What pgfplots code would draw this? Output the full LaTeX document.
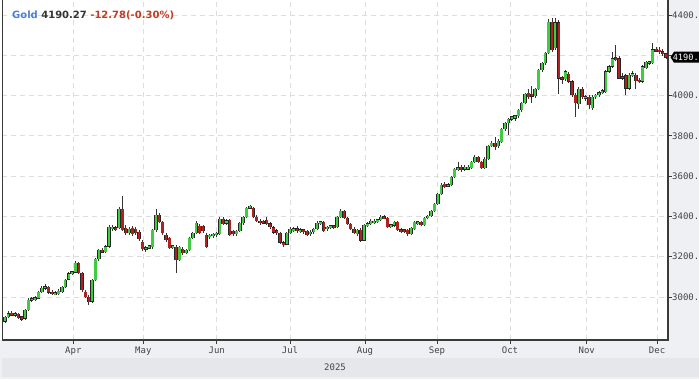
\documentclass[border=0pt]{standalone}
\usepackage{pgfplots}
\pgfplotsset{compat=1.18}
\usepackage{pgfplotstable}
\usepackage{fontspec}
\newfontfamily\monof{DejaVu Sans Mono}
\newfontfamily\titlef{DejaVu Sans}
\definecolor{upgreen}{HTML}{40CC40}
\definecolor{downred}{HTML}{AE2220}
\definecolor{gridc}{HTML}{DDDDDD}
\definecolor{panel}{HTML}{EEF0F3}
\definecolor{bandc}{HTML}{E5E7EA}
\definecolor{axc}{HTML}{3A3A3A}
\definecolor{txt}{HTML}{444444}
\definecolor{txtdark}{HTML}{333333}
\definecolor{goldblue}{HTML}{4A7FD4}
\definecolor{chg}{HTML}{C23B22}

\pgfplotstableread{
i o h l c
0 2878 2908 2870 2900
1 2900 2928 2894 2918
2 2920 2930 2905 2908
3 2909 2925 2900 2919
4 2915 2922 2890 2896
5 2902 2908 2880 2887
6 2892 2940 2885 2935
7 2935 2995 2930 2985
8 2982 3002 2975 2994
9 2986 3005 2980 2998
10 2994 3030 2990 3025
11 3025 3055 3018 3045
12 3042 3066 3035 3053
13 3050 3056 3015 3022
14 3025 3035 3008 3014
15 3011 3030 3008 3023
16 3015 3038 3010 3030
17 3025 3055 3020 3050
18 3050 3090 3045 3085
19 3088 3122 3082 3117
20 3114 3131 3109 3127
21 3121 3177 3117 3169
22 3169 3174 3114 3119
23 3119 3124 3025 3035
24 3025 3035 2995 3000
25 3000 3010 2960 2975
26 2978 3090 2970 3085
27 3085 3193 3078 3188
28 3188 3238 3178 3233
29 3234 3243 3218 3222
30 3223 3258 3216 3250
31 3250 3357 3243 3347
32 3337 3357 3329 3347
33 3345 3352 3327 3334
34 3342 3447 3337 3437
35 3437 3502 3327 3332
36 3342 3357 3307 3317
37 3317 3347 3307 3337
38 3342 3352 3302 3312
39 3337 3349 3307 3317
40 3322 3332 3277 3287
41 3273 3283 3228 3238
42 3236 3253 3223 3246
43 3242 3258 3236 3254
44 3248 3337 3238 3332
45 3332 3437 3325 3407
46 3407 3417 3367 3372
47 3372 3379 3307 3317
48 3307 3317 3273 3283
49 3292 3299 3236 3243
50 3243 3260 3238 3255
51 3248 3256 3119 3183
52 3183 3253 3178 3248
53 3238 3246 3208 3218
54 3218 3240 3213 3233
55 3233 3297 3228 3293
56 3293 3325 3288 3317
57 3317 3375 3312 3367
58 3352 3362 3312 3317
59 3352 3359 3319 3327
60 3307 3317 3243 3248
61 3297 3312 3289 3307
62 3302 3319 3295 3312
63 3307 3325 3299 3317
64 3312 3395 3307 3387
65 3387 3397 3357 3362
66 3365 3387 3357 3379
67 3382 3389 3302 3307
68 3327 3335 3305 3312
69 3312 3335 3305 3327
70 3327 3372 3322 3367
71 3367 3402 3359 3397
72 3397 3447 3392 3442
73 3440 3455 3435 3451
74 3442 3447 3392 3397
75 3397 3405 3372 3377
76 3377 3385 3359 3367
77 3378 3382 3362 3366
78 3382 3395 3357 3362
79 3365 3372 3337 3347
80 3345 3352 3312 3319
81 3329 3337 3307 3317
82 3317 3325 3262 3269
83 3269 3277 3247 3259
84 3262 3322 3257 3317
85 3317 3347 3312 3337
86 3329 3349 3325 3340
87 3339 3352 3317 3327
88 3324 3342 3319 3335
89 3334 3337 3315 3322
90 3327 3335 3302 3307
91 3312 3332 3305 3322
92 3322 3342 3315 3337
93 3337 3375 3332 3367
94 3364 3379 3359 3375
95 3372 3377 3322 3327
96 3337 3352 3327 3347
97 3344 3359 3339 3355
98 3355 3357 3337 3344
99 3347 3402 3342 3397
100 3397 3439 3392 3427
101 3427 3432 3385 3392
102 3392 3399 3357 3362
103 3362 3369 3332 3337
104 3337 3345 3312 3317
105 3312 3337 3305 3332
106 3332 3342 3275 3282
107 3282 3362 3277 3357
108 3354 3372 3349 3365
109 3362 3385 3355 3377
110 3367 3387 3362 3377
111 3374 3389 3369 3385
112 3382 3405 3377 3397
113 3400 3407 3387 3389
114 3392 3399 3342 3347
115 3348 3362 3342 3359
116 3355 3379 3347 3372
117 3372 3377 3327 3332
118 3335 3342 3319 3324
119 3334 3339 3319 3322
120 3332 3337 3305 3312
121 3312 3347 3307 3342
122 3337 3377 3332 3372
123 3364 3379 3357 3375
124 3372 3379 3352 3357
125 3357 3397 3352 3392
126 3392 3407 3385 3402
127 3402 3432 3397 3427
128 3427 3466 3422 3462
129 3462 3516 3457 3511
130 3511 3564 3506 3556
131 3561 3571 3541 3546
132 3548 3566 3544 3559
133 3556 3601 3551 3596
134 3596 3640 3591 3635
135 3630 3670 3625 3642
136 3645 3653 3620 3630
137 3633 3655 3625 3645
138 3634 3653 3630 3646
139 3640 3675 3635 3670
140 3670 3705 3665 3695
141 3695 3700 3663 3670
142 3670 3677 3633 3640
143 3640 3693 3635 3685
144 3685 3757 3680 3750
145 3750 3772 3743 3765
146 3765 3794 3730 3745
147 3750 3784 3740 3774
148 3770 3839 3765 3834
149 3834 3869 3826 3864
150 3864 3889 3804 3884
151 3882 3898 3874 3895
152 3887 3903 3874 3900
153 3898 3933 3891 3928
154 3928 3968 3918 3963
155 3963 4015 3958 4008
156 4013 4032 3985 3993
157 4008 4047 3963 3995
158 3998 4037 3988 4033
159 4033 4132 4028 4127
160 4127 4167 4117 4162
161 4162 4217 4152 4212
162 4212 4380 4207 4366
163 4366 4383 4216 4226
164 4236 4386 4226 4363
165 4363 4376 4008 4085
166 4090 4097 4057 4080
167 4082 4127 4072 4119
168 4107 4117 4062 4069
169 4069 4077 3995 4003
170 4003 4013 3893 3963
171 3958 4043 3933 4033
172 4033 4041 3983 3993
173 3985 4003 3975 3996
174 3993 4001 3933 3953
175 3938 4001 3928 3993
176 3993 4008 3985 4003
177 4003 4021 3995 4015
178 4013 4031 4008 4025
179 4018 4127 4013 4119
180 4119 4152 4112 4144
181 4144 4217 4137 4185
182 4188 4251 4174 4178
183 4185 4197 4081 4086
184 4096 4112 4078 4085
185 4101 4107 4003 4036
186 4036 4110 4028 4102
187 4099 4122 4092 4110
188 4102 4110 4033 4073
189 4078 4088 4061 4070
190 4070 4150 4063 4144
191 4137 4174 4130 4167
192 4159 4174 4152 4170
193 4162 4263 4157 4229
194 4232 4241 4216 4220
195 4226 4243 4207 4218
196 4218 4231 4197 4209
197 4209 4213 4181 4190.27
}\gold

\begin{document}
\begin{tikzpicture}[x=1bp,y=1bp]
\fill[panel] (0,0) rectangle (699,39);
\fill[panel] (668,39) rectangle (699,379);
\fill[bandc] (2,2) rectangle (699,21);
\begin{axis}[
  at={(2bp,39bp)}, anchor=south west, scale only axis,
  width=666bp, height=340bp,
  xmin=-0.864, xmax=197.58, ymin=2786.4, ymax=4474.5,
  axis line style={draw=none},
  xtick={20.38,41.24,63.11,84.95,107.3,128.75,150.5,173.36,194.31},
  xticklabels={Apr,May,Jun,Jul,Aug,Sep,Oct,Nov,Dec},
  ytick={3000,3200,3400,3600,3800,4000,4200,4400},
  yticklabels={3000.,3200.,3400.,3600.,3800.,4000.,,4400.},
  xtick pos=left, ytick pos=right, xticklabel pos=left, yticklabel pos=right,
  tick align=outside, major tick length=3.5bp,
  tick style={axc, line width=0.8bp},
  grid=major,
  major grid style={gridc, dash pattern=on 5bp off 4bp, line width=0.7bp},
  ticklabel style={font=\monof\fontsize{9bp}{10bp}\selectfont, text=txt},
  yticklabel style={anchor=west, inner sep=0pt, xshift=0.5bp},
  xticklabel style={anchor=north, inner sep=0pt, yshift=-3bp},
]
% wicks
\addplot[draw=none, no markers, forget plot,
  error bars/.cd, y dir=both, y explicit, error mark=none,
  error bar style={draw=black!80, line width=0.75bp, solid}]
  table[x=i, y expr={(\thisrow{h}+\thisrow{l})/2},
        y error expr={(\thisrow{h}-\thisrow{l})/2}]{\gold};
% body outlines
\addplot[draw=none, no markers, forget plot,
  error bars/.cd, y dir=both, y explicit, error mark=none,
  error bar style={draw=black!85, line width=3.4bp, solid}]
  table[x=i, y expr={(\thisrow{o}+\thisrow{c})/2},
        y error expr={max(abs(\thisrow{c}-\thisrow{o})/2+1.6,3.5)}]{\gold};
% up bodies (down rows are moved below the axis and clipped)
\addplot[draw=none, no markers, forget plot,
  error bars/.cd, y dir=both, y explicit, error mark=none,
  error bar style={draw=upgreen, line width=2.3bp, solid}]
  table[x=i, y expr={\thisrow{c}>=\thisrow{o} ? (\thisrow{o}+\thisrow{c})/2 : 1000},
        y error expr={\thisrow{c}>=\thisrow{o} ? max(abs(\thisrow{c}-\thisrow{o})/2-1.6,1.2) : 0}]{\gold};
% down bodies
\addplot[draw=none, no markers, forget plot,
  error bars/.cd, y dir=both, y explicit, error mark=none,
  error bar style={draw=downred, line width=2.3bp, solid}]
  table[x=i, y expr={\thisrow{c}<\thisrow{o} ? (\thisrow{o}+\thisrow{c})/2 : 1000},
        y error expr={\thisrow{c}<\thisrow{o} ? max(abs(\thisrow{c}-\thisrow{o})/2-1.6,1.2) : 0}]{\gold};
\coordinate (pm) at (axis cs:197.58,4190.27);
\end{axis}
\draw[axc, line width=1.2bp] (2.6,379) -- (2.6,39) -- (668,39) -- (668,379);
\fill[black] ([xshift=2.5bp]pm) -- ([xshift=6bp,yshift=5.5bp]pm) -- ([xshift=40bp,yshift=5.5bp]pm)
  -- ([xshift=40bp,yshift=-5.5bp]pm) -- ([xshift=6bp,yshift=-5.5bp]pm) -- cycle;
\node[anchor=west, inner sep=0pt, text=white, font=\monof\fontsize{8.6bp}{10bp}\selectfont]
  at ([xshift=4.6bp]pm) {4190.};
\node[anchor=base west, inner sep=0pt, font=\titlef\bfseries\fontsize{10bp}{12bp}\selectfont]
  at (12,361) {\textcolor{goldblue}{Gold} \textcolor{txtdark}{4190.27} \textcolor{chg}{-12.78(-0.30\%)}};
\node[anchor=center, inner sep=0pt, text=txt, font=\monof\fontsize{9bp}{10bp}\selectfont]
  at (335,12) {2025};
\pgfresetboundingbox
\path[use as bounding box] (0,0) rectangle (699,379);
\end{tikzpicture}
\end{document}
